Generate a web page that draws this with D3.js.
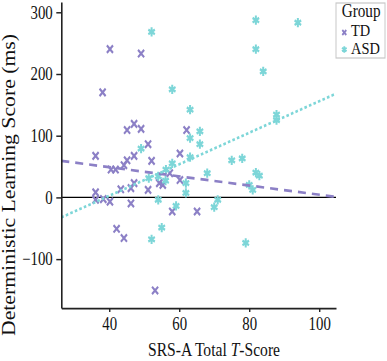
<!DOCTYPE html>
<html>
<head>
<meta charset="utf-8">
<script src="https://cdn.jsdelivr.net/npm/d3@7"></script>
<style>
  body { margin: 0; background: #fff; }
  svg { display: block; font-family: "Liberation Serif", "Times New Roman", serif; }
</style>
</head>
<body>
<div id="container"></div>
<script>
/* 1. DATA */
const groups = ["TD", "ASD"];

const tdX = [40.2, 49.1, 38.1, 47.1, 45.1, 49.1, 51.1, 36.1, 47.1, 45.1, 52.1, 44.2, 40.5, 41.8,
             57.3, 60.2, 62.1, 60.2, 54.3, 55.3, 47.1, 46.2, 43.3, 51.1, 36.1, 36.1, 38.3, 40.2,
             46.2, 58.0, 65.1, 42.1, 44.2, 53.1];
const tdY = [240, 233, 170, 119, 109, 111, 86, 67, 67, 60, 59, 52, 45, 45,
             39, 71, 109, 28, 23, 20, 23, 15, 13, 12, 8, -4, -3, -7,
             -10, -23, -23, -51, -66, -151];

const asdX = [52.1, 58.0, 81.9, 93.9, 81.9, 84.0, 63.1, 87.8, 87.8, 65.9, 63.1, 65.9, 49.1, 63.1,
              75.0, 78.0, 58.0, 56.2, 68.0, 81.9, 82.9, 54.0, 51.3, 56.1, 61.9, 80.0, 81.0, 61.9,
              54.0, 71.0, 59.1, 70.0, 55.0, 52.1, 79.0];
const asdY = [268, 175, 287, 283, 240, 204, 142, 134, 125, 107, 96, 86, 79, 65,
              60, 63, 55, 45, 39, 40, 35, 34, 31, 27, 23, 20, 12, 7,
              -4, -4, -14, -16, -49, -68, -74];

// linear fits, one per group
const fitIntercepts = [78.6, -99.8];
const fitSlopes = [-0.744, 2.555];

const xTicks = [40, 60, 80, 100];
const yTicks = [-100, 0, 100, 200, 300];

/* 2. SIZES */
const width = 387, height = 361;
const stretch = 1.22;              // the picture is taller than it was drawn
const vbHeight = height / stretch;

const plot = {left: 61.3, right: 336, top: 2 / stretch, bottom: 308 / stretch};

const tdColor = "#8c80c6",
      asdColor = "#7dd6d8";
const colors = [tdColor, asdColor];

/* 3. SCALES */
const xScale = d3.scaleLinear()
                 .domain([26.3, 104.8])
                 .range([plot.left, plot.right]);

const yScale = d3.scaleLinear()
                 .domain([-179.4, 316.5])
                 .range([plot.bottom, plot.top]);

/* 4. SVG */
const svg = d3.select("#container")
              .append("svg")
              .attr("width", width)
              .attr("height", height)
              .attr("viewBox", `0 0 ${width} ${vbHeight}`)
              .attr("preserveAspectRatio", "none");

// zero line
svg.append("line")
   .attr("x1", plot.left)
   .attr("x2", plot.right)
   .attr("y1", yScale(0))
   .attr("y2", yScale(0))
   .attr("stroke", "#000")
   .attr("stroke-width", 1.1);

// points
const tdSymbol = d3.symbol().type(d3.symbolTimes).size(26);
const asdSymbol = d3.symbol().type(d3.symbolAsterisk).size(40);

svg.append("g")
   .selectAll("path")
   .data(tdX.map((x, i) => ({x: x, y: tdY[i]})))
   .join("path")
   .attr("transform", d => `translate(${xScale(d.x)},${yScale(d.y)})`)
   .attr("d", tdSymbol)
   .attr("fill", "none")
   .attr("stroke", tdColor)
   .attr("stroke-width", 2);

svg.append("g")
   .selectAll("path")
   .data(asdX.map((x, i) => ({x: x, y: asdY[i]})))
   .join("path")
   .attr("transform", d => `translate(${xScale(d.x)},${yScale(d.y)})`)
   .attr("d", asdSymbol)
   .attr("fill", "none")
   .attr("stroke", asdColor)
   .attr("stroke-width", 2);

// fit lines over the whole x range
const line = d3.line()
               .x(d => xScale(d[0]))
               .y(d => yScale(d[1]));

const fitLines = groups.map((g, i) => xScale.domain().map(x => [x, fitIntercepts[i] + fitSlopes[i] * x]));

svg.append("g")
   .selectAll("path")
   .data(fitLines)
   .join("path")
   .attr("d", line)
   .attr("fill", "none")
   .attr("stroke", (d, i) => colors[i])
   .attr("stroke-width", 2.2)
   .attr("stroke-dasharray", (d, i) => i == 0 ? "8,6" : "2.6,2.2");

// axes
const xAxis = d3.axisBottom(xScale)
                .tickValues(xTicks)
                .tickSize(3.3)
                .tickSizeOuter(0)
                .tickPadding(4.6);
const xg = svg.append("g")
              .attr("transform", `translate(0,${plot.bottom})`)
              .call(xAxis);

const yAxis = d3.axisLeft(yScale)
                .tickValues(yTicks)
                .tickSize(5)
                .tickSizeOuter(0)
                .tickPadding(3.6);
const yg = svg.append("g")
              .attr("transform", `translate(${plot.left},0)`)
              .call(yAxis);

xg.select(".domain").attr("stroke", "#222").attr("stroke-width", 1.3);
yg.select(".domain").attr("stroke", "#222").attr("stroke-width", 1.6);
xg.selectAll(".tick line").attr("stroke", "#222").attr("stroke-width", 1.4);
yg.selectAll(".tick line").attr("stroke", "#222").attr("stroke-width", 1.2);
svg.selectAll(".tick text")
   .attr("font-family", "Liberation Serif, Times New Roman, serif")
   .attr("font-size", 14.8)
   .attr("fill", "#111");

// axis titles
svg.append("text")
   .attr("transform", `translate(15.3,${185 / stretch}) rotate(-90)`)
   .attr("text-anchor", "middle")
   .attr("font-size", 17.8)
   .attr("fill", "#111")
   .text("Deterministic Learning Score (ms)");

const xTitle = svg.append("text")
                  .attr("x", 214)
                  .attr("y", 356 / stretch)
                  .attr("text-anchor", "middle")
                  .attr("font-size", 15.6)
                  .attr("fill", "#111");
xTitle.append("tspan").text("SRS-A Total ");
xTitle.append("tspan").attr("font-style", "italic").text("T");
xTitle.append("tspan").text("-Score");

// legend
svg.append("rect")
   .attr("x", 336)
   .attr("y", 3 / stretch)
   .attr("width", 49)
   .attr("height", 55 / stretch)
   .attr("fill", "#fff")
   .attr("stroke", "#c8c8c8")
   .attr("stroke-width", 1);

svg.append("text")
   .attr("x", 341.7)
   .attr("y", 16.7 / stretch)
   .attr("font-size", 15.2)
   .attr("fill", "#111")
   .text("Group");

const legendSymbols = [d3.symbol().type(d3.symbolTimes).size(12),
                       d3.symbol().type(d3.symbolAsterisk).size(20)];
const legendMarkY = [32.5, 49.5];
const legendTextY = [36.5, 54];

svg.selectAll(".legend-mark")
   .data(groups)
   .join("path")
   .attr("class", "legend-mark")
   .attr("transform", (d, i) => `translate(344.3,${legendMarkY[i] / stretch})`)
   .attr("d", (d, i) => legendSymbols[i]())
   .attr("fill", "none")
   .attr("stroke", (d, i) => colors[i])
   .attr("stroke-width", 1.8);

svg.selectAll(".legend-label")
   .data(groups)
   .join("text")
   .attr("class", "legend-label")
   .attr("x", 351)
   .attr("y", (d, i) => legendTextY[i] / stretch)
   .attr("font-size", 14.4)
   .attr("fill", "#111")
   .text(d => d);
</script>
</body>
</html>
